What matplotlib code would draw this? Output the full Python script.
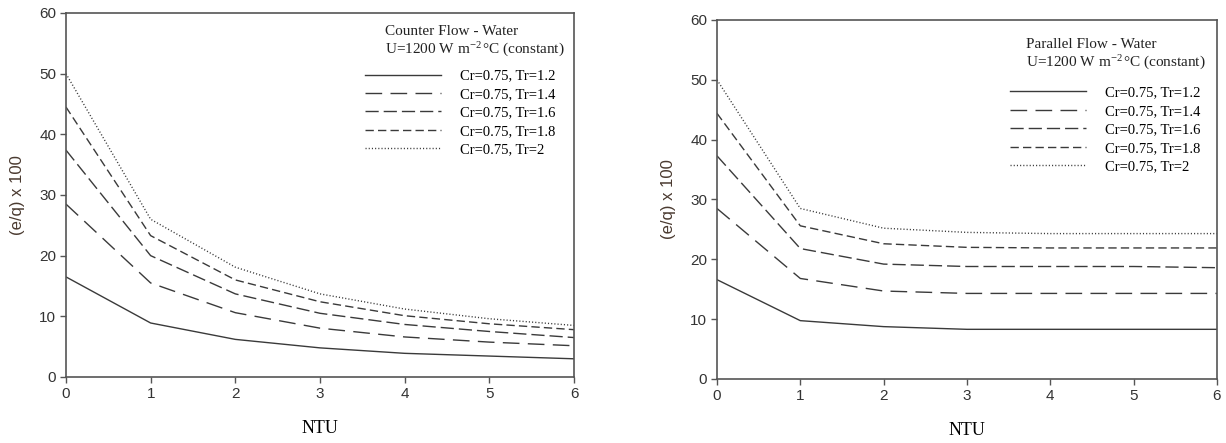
import matplotlib
matplotlib.use("Agg")
import matplotlib.pyplot as plt

ntu = [0, 1, 2, 3, 4, 5, 6]
tr_labels = ["Cr=0.75, Tr=1.2", "Cr=0.75, Tr=1.4", "Cr=0.75, Tr=1.6",
             "Cr=0.75, Tr=1.8", "Cr=0.75, Tr=2"]

# counter flow, (e/q) x 100
counter = [
    [16.5, 8.9, 6.2, 4.8, 3.9, 3.45, 3.0],
    [28.5, 15.5, 10.6, 8.05, 6.6, 5.75, 5.15],
    [37.4, 20.0, 13.7, 10.5, 8.66, 7.5, 6.5],
    [44.5, 23.3, 16.0, 12.4, 10.1, 8.77, 7.8],
    [50.0, 26.0, 18.1, 13.7, 11.2, 9.6, 8.5],
]

# parallel flow
parallel = [
    [16.6, 9.75, 8.75, 8.3, 8.3, 8.3, 8.3],
    [28.5, 16.8, 14.7, 14.3, 14.3, 14.3, 14.3],
    [37.3, 21.8, 19.2, 18.8, 18.8, 18.8, 18.6],
    [44.4, 25.6, 22.6, 22.0, 21.9, 21.9, 21.9],
    [50.0, 28.5, 25.2, 24.5, 24.3, 24.3, 24.3],
]

dashes = [None, (12, 6), (9.5, 3.6), (6, 3), (0.8, 1.5)]
line_color = "#3a3a3a"
tick_color = "#333333"
serif = "Liberation Serif"
sans = "Liberation Sans"

plt.rcParams["mathtext.fontset"] = "custom"
plt.rcParams["mathtext.rm"] = serif
plt.rcParams["mathtext.it"] = serif

fig = plt.figure(figsize=(12.26, 4.43), dpi=100)
ax1 = fig.add_axes([0.0538, 0.149, 0.4144, 0.8217])
ax2 = fig.add_axes([0.5848, 0.1445, 0.4078, 0.8104])


def draw_panel(ax, series, title, title_xy, leg_xy):
    handles = []
    for vals, lab, d in zip(series, tr_labels, dashes):
        ln, = ax.plot(ntu, vals, color=line_color, lw=1.0, label=lab)
        if d is not None:
            ln.set_dashes(d)
        handles.append(ln)

    ax.set_xlim(0, 6)
    ax.set_ylim(0, 60)
    ax.set_xticks(ntu)
    ax.set_yticks(range(0, 61, 10))
    ax.tick_params(direction="out", length=4, width=1, colors="#555555",
                   labelcolor=tick_color, labelsize=11, pad=3)
    for lab in ax.get_xticklabels() + ax.get_yticklabels():
        lab.set_fontfamily(sans)
    for sp in ax.spines.values():
        sp.set_color("#555555")
        sp.set_linewidth(1.2)

    ax.set_xlabel("NTU", fontfamily=serif, fontsize=13, labelpad=14)
    ax.set_ylabel("(e/q) x 100", fontfamily=sans, fontsize=12,
                  color="#4a3a30", labelpad=10)

    ax.text(title_xy[0], title_xy[1], title + "\nU=1200 W m$^{-2\\,}$°C (constant)",
            transform=ax.transAxes, fontfamily=serif, fontsize=11,
            va="top", ha="left", linespacing=1.25, color="#222222")

    ax.legend(handles=handles, loc="upper left", bbox_to_anchor=leg_xy,
              frameon=False, handlelength=5.2, handletextpad=1.3,
              labelspacing=0.36, borderaxespad=0,
              prop={"family": serif, "size": 10.5})


draw_panel(ax1, counter, "Counter Flow - Water", (0.628, 0.968), (0.577, 0.861))
draw_panel(ax2, parallel, "Parallel Flow - Water", (0.618, 0.95), (0.574, 0.832))

fig.savefig("out.png", dpi=100)
